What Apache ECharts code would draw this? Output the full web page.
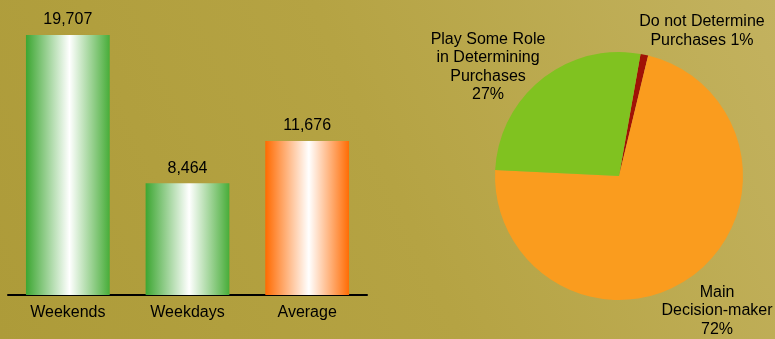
<!DOCTYPE html>
<html>
<head>
<meta charset="utf-8">
<script src="https://cdn.jsdelivr.net/npm/echarts@6/dist/echarts.min.js"></script>
<style>
  html, body { margin: 0; padding: 0; }
  #chart { width: 775px; height: 339px; }
</style>
</head>
<body>
<div id="chart"></div>
<script>
const barCategories = ['Weekends', 'Weekdays', 'Average'];
const barValues = [19707, 8464, 11676];
const barKinds = ['green', 'green', 'orange'];

const pieNames = ['Do not Determine\nPurchases', 'Main\nDecision-maker', 'Play Some Role\nin Determining\nPurchases'];
const pieValues = [1, 72, 27];
const pieLabels = ['Do not Determine\nPurchases 1%', 'Main\nDecision-maker\n72%', 'Play Some Role\nin Determining\nPurchases\n27%'];
const pieColors = ['#a01206', '#fa9c1e', '#80c220'];

const font = '"Liberation Sans", Arial, sans-serif';

const barGradient = (kind) => {
    const edge = kind === 'orange' ? ['#ff6a00', '#ff6c04'] : ['#3ca631', '#48ad39'];
    return new echarts.graphic.LinearGradient(0, 0, 1, 0, [
        { offset: 0, color: edge[0] },
        { offset: 0.52, color: '#ffffff' },
        { offset: 1, color: edge[1] }
    ]);
};

// label anchor points for the pie text (same order as pie data)
const pieLabelPos = [[702, 31], [717, 311], [488, 67]];

const chart = echarts.init(document.getElementById('chart'));

const option = {
    animation: false,
    backgroundColor: new echarts.graphic.LinearGradient(0, 1, 1, 0, [
        { offset: 0, color: '#ad9b39' },
        { offset: 0.5, color: '#b5a343' },
        { offset: 1, color: '#c3b25f' }
    ]),
    textStyle: { fontFamily: font },
    grid: { left: 8, width: 359, top: 35, bottom: 44 },
    xAxis: {
        type: 'category',
        data: barCategories,
        axisLine: { lineStyle: { color: '#000', width: 2 } },
        axisTick: { show: false },
        axisLabel: { color: '#000', fontSize: 16, margin: 10, fontFamily: font }
    },
    yAxis: {
        type: 'value',
        min: 0,
        max: 19707,
        show: false
    },
    series: [
        {
            type: 'bar',
            barWidth: '70%',
            data: barValues.map((v, i) => ({
                value: v,
                itemStyle: { color: barGradient(barKinds[i]) }
            })),
            label: {
                show: true,
                position: 'top',
                distance: 7,
                color: '#000',
                fontSize: 16,
                fontFamily: font,
                formatter: (p) => p.value.toLocaleString('en-US')
            }
        },
        {
            type: 'pie',
            center: [619, 176],
            radius: [0, 124],
            startAngle: 80,
            clockwise: true,
            data: pieNames.map((n, i) => ({
                name: n,
                value: pieValues[i],
                itemStyle: { color: pieColors[i] }
            })),
            label: {
                show: true,
                position: 'outside',
                formatter: (p) => pieLabels[p.dataIndex],
                color: '#000',
                fontSize: 16,
                lineHeight: 18.5,
                fontFamily: font,
                align: 'center',
                overflow: 'none',
                width: 200
            },
            labelLine: { show: false },
            labelLayout: (params) => ({
                x: pieLabelPos[params.dataIndex][0],
                y: pieLabelPos[params.dataIndex][1],
                align: 'center',
                verticalAlign: 'middle',
                moveOverlap: null
            })
        }
    ]
};

chart.setOption(option);
</script>
</body>
</html>
